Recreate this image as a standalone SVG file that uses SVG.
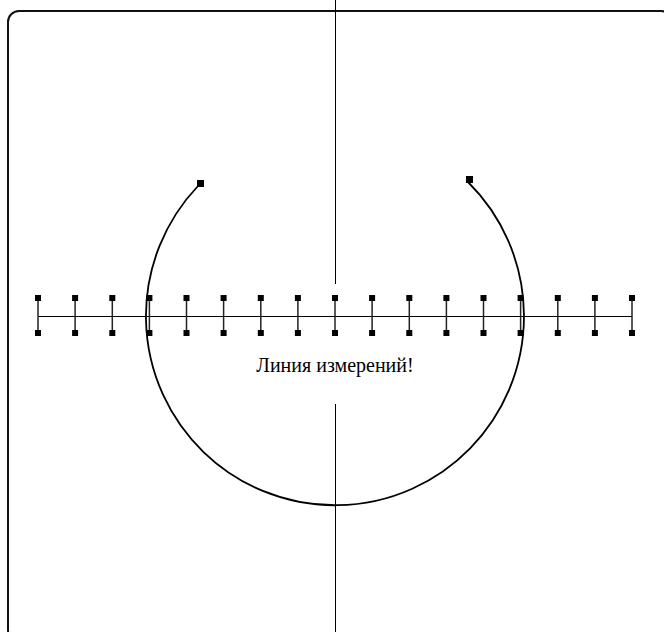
<svg xmlns="http://www.w3.org/2000/svg" width="664" height="632" viewBox="0 0 664 632">
<defs>
<style>
.frame{fill:none;stroke:#111;stroke-width:2}
.axis{stroke:#000;stroke-width:1;fill:none}
.tick{stroke:#222;stroke-width:1.5}
.h{fill:#000}
.arc{fill:none;stroke:#000;stroke-width:1.8}
.lbl{font-family:"Liberation Serif","Times New Roman",serif;font-size:20px;fill:#000}
</style>
<rect id="hdl" x="-3" y="-3" width="6" height="6" class="h"/>
</defs>
<rect x="0" y="0" width="664" height="632" fill="#fff"/>
<g id="frame"><rect class="frame" x="8" y="11" width="664" height="630" rx="11"/></g>
<g id="connectors">
<line class="axis" x1="335.5" y1="0" x2="335.5" y2="284"/>
<line class="axis" x1="335.5" y1="404" x2="335.5" y2="632"/>
<line class="axis" x1="38" y1="316.5" x2="632" y2="316.5"/>
<path class="arc" d="M198,186 A189,189 0 1 0 468,182"/>
</g>
<g id="ticks">
<g id="t0"><line class="tick" x1="38" y1="298" x2="38" y2="333"/><use href="#hdl" x="38" y="298"/><use href="#hdl" x="38" y="333"/></g>
<g id="t1"><line class="tick" x1="75.1" y1="298" x2="75.1" y2="333"/><use href="#hdl" x="75.1" y="298"/><use href="#hdl" x="75.1" y="333"/></g>
<g id="t2"><line class="tick" x1="112.3" y1="298" x2="112.3" y2="333"/><use href="#hdl" x="112.3" y="298"/><use href="#hdl" x="112.3" y="333"/></g>
<g id="t3"><line class="tick" x1="149.4" y1="298" x2="149.4" y2="333"/><use href="#hdl" x="149.4" y="298"/><use href="#hdl" x="149.4" y="333"/></g>
<g id="t4"><line class="tick" x1="186.5" y1="298" x2="186.5" y2="333"/><use href="#hdl" x="186.5" y="298"/><use href="#hdl" x="186.5" y="333"/></g>
<g id="t5"><line class="tick" x1="223.6" y1="298" x2="223.6" y2="333"/><use href="#hdl" x="223.6" y="298"/><use href="#hdl" x="223.6" y="333"/></g>
<g id="t6"><line class="tick" x1="260.8" y1="298" x2="260.8" y2="333"/><use href="#hdl" x="260.8" y="298"/><use href="#hdl" x="260.8" y="333"/></g>
<g id="t7"><line class="tick" x1="297.9" y1="298" x2="297.9" y2="333"/><use href="#hdl" x="297.9" y="298"/><use href="#hdl" x="297.9" y="333"/></g>
<g id="t8"><line class="tick" x1="335" y1="298" x2="335" y2="333"/><use href="#hdl" x="335" y="298"/><use href="#hdl" x="335" y="333"/></g>
<g id="t9"><line class="tick" x1="372.1" y1="298" x2="372.1" y2="333"/><use href="#hdl" x="372.1" y="298"/><use href="#hdl" x="372.1" y="333"/></g>
<g id="t10"><line class="tick" x1="409.3" y1="298" x2="409.3" y2="333"/><use href="#hdl" x="409.3" y="298"/><use href="#hdl" x="409.3" y="333"/></g>
<g id="t11"><line class="tick" x1="446.4" y1="298" x2="446.4" y2="333"/><use href="#hdl" x="446.4" y="298"/><use href="#hdl" x="446.4" y="333"/></g>
<g id="t12"><line class="tick" x1="483.5" y1="298" x2="483.5" y2="333"/><use href="#hdl" x="483.5" y="298"/><use href="#hdl" x="483.5" y="333"/></g>
<g id="t13"><line class="tick" x1="520.6" y1="298" x2="520.6" y2="333"/><use href="#hdl" x="520.6" y="298"/><use href="#hdl" x="520.6" y="333"/></g>
<g id="t14"><line class="tick" x1="557.8" y1="298" x2="557.8" y2="333"/><use href="#hdl" x="557.8" y="298"/><use href="#hdl" x="557.8" y="333"/></g>
<g id="t15"><line class="tick" x1="594.9" y1="298" x2="594.9" y2="333"/><use href="#hdl" x="594.9" y="298"/><use href="#hdl" x="594.9" y="333"/></g>
<g id="t16"><line class="tick" x1="632" y1="298" x2="632" y2="333"/><use href="#hdl" x="632" y="298"/><use href="#hdl" x="632" y="333"/></g>
</g>
<g id="arc-handles">
<rect class="h" x="197" y="180" width="7" height="7"/>
<rect class="h" x="466" y="176" width="7" height="7"/>
</g>
<g id="label"><text class="lbl" x="335" y="372" text-anchor="middle">Линия измерений!</text></g>
</svg>
